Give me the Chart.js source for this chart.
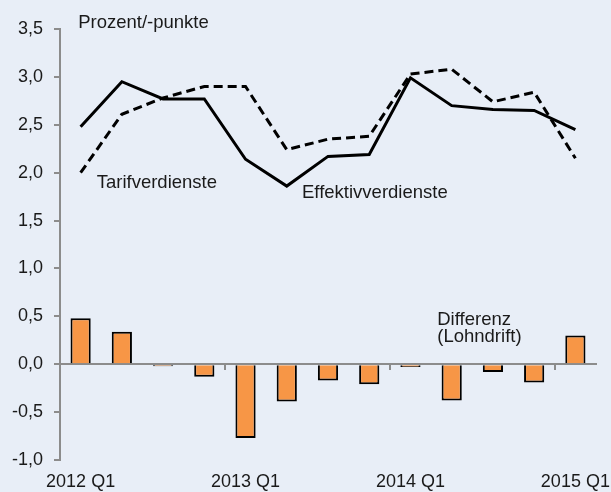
<!DOCTYPE html>
<html>
<head>
<meta charset="utf-8">
<script src="https://cdn.jsdelivr.net/npm/chart.js@4"></script>
<style>
  body { margin:0; background:#e8eef7; }
  #wrap { width:611px; height:492px; position:relative; }
</style>
</head>
<body>
<div id="wrap"><canvas id="myChart"></canvas></div>
<script>
var quarters = ['2012 Q1','2012 Q2','2012 Q3','2012 Q4','2013 Q1','2013 Q2','2013 Q3','2013 Q4',
                '2014 Q1','2014 Q2','2014 Q3','2014 Q4','2015 Q1'];
var effektiv  = [2.48, 2.95, 2.77, 2.77, 2.14, 1.86, 2.17, 2.19, 2.99, 2.70, 2.66, 2.65, 2.45];
var tarif     = [2.00, 2.61, 2.78, 2.90, 2.90, 2.24, 2.35, 2.38, 3.03, 3.08, 2.74, 2.84, 2.15];
var differenz = [0.48, 0.34, -0.02, -0.13, -0.77, -0.39, -0.17, -0.21, -0.03, -0.38, -0.08, -0.19, 0.30];

// text labels placed in data space: x = category index, y = value
var notes = [
  {text:'Prozent/-punkte',    x:-0.06, y:3.51},
  {text:'Tarifverdienste',    x:0.39,  y:1.84},
  {text:'Effektivverdienste', x:5.37,  y:1.74},
  {text:'Differenz',          x:8.65,  y:0.41},
  {text:'(Lohndrift)',        x:8.65,  y:0.235}
];

var axisGrey = '#8c8c8c';
var fontFam = '"Liberation Sans", Arial, sans-serif';

var notesPlugin = {
  id: 'notes',
  afterDatasetsDraw: function(chart) {
    var ctx = chart.ctx, xs = chart.scales.x, ys = chart.scales.y;
    var step = xs.getPixelForValue(1) - xs.getPixelForValue(0);
    ctx.save();
    ctx.font = '18.5px ' + fontFam;
    ctx.fillStyle = '#1a1a1a';
    ctx.textAlign = 'left';
    ctx.textBaseline = 'alphabetic';
    notes.forEach(function(n){
      ctx.fillText(n.text, xs.getPixelForValue(0) + n.x * step, ys.getPixelForValue(n.y));
    });
    ctx.restore();
  }
};

var ctx = document.getElementById('myChart');
var myChart = new Chart(ctx, {
  type: 'bar',
  data: {
    labels: quarters,
    datasets: [
      {
        type: 'line', label: 'Effektivverdienste', data: effektiv,
        borderColor: '#000', borderWidth: 3, pointRadius: 0, tension: 0, fill: false, order: 1
      },
      {
        type: 'line', label: 'Tarifverdienste', data: tarif,
        borderColor: '#000', borderWidth: 3, borderDash: [9, 5], pointRadius: 0, tension: 0, fill: false, order: 1
      },
      {
        type: 'bar', label: 'Differenz (Lohndrift)', data: differenz,
        backgroundColor: '#f79646', borderColor: '#000', borderWidth: 2,
        barPercentage: 0.49, categoryPercentage: 1, order: 2
      }
    ]
  },
  options: {
    responsive: true,
    maintainAspectRatio: false,
    animation: false,
    layout: { padding: { left: 0, right: 15, top: 29, bottom: 0 } },
    plugins: { legend: { display: false }, tooltip: { enabled: false } },
    scales: {
      x: {
        type: 'category', offset: true,
        grid: { display: false, drawTicks: false, offset: true },
        border: { display: false },
        ticks: {
          autoSkip: false, maxRotation: 0, padding: 11, color: '#1a1a1a',
          font: { family: fontFam, size: 18 },
          callback: function(v, i) { return i % 4 === 0 ? quarters[i] : ''; }
        },
        afterFit: function(s) { s.height = 32; s.paddingLeft = 0; s.paddingRight = 0; }
      },
      x2: {
        type: 'category', axis: 'x', offset: true, position: { y: 0 }, z: 1,
        grid: {
          offset: true, drawOnChartArea: false, drawTicks: true, tickLength: 5, lineWidth: 2,
          color: function(c) { return (c.index > 0 && c.index % 4 === 0) ? axisGrey : 'rgba(0,0,0,0)'; }
        },
        border: { display: true, color: axisGrey, width: 2 },
        ticks: { display: false }
      },
      y: {
        min: -1, max: 3.5,
        grid: { drawOnChartArea: false, drawTicks: true, tickLength: 6, color: axisGrey, lineWidth: 2 },
        border: { display: true, color: axisGrey, width: 2 },
        ticks: {
          stepSize: 0.5, padding: 11, color: '#1a1a1a',
          font: { family: fontFam, size: 18 },
          callback: function(v) { return v.toFixed(1).replace('.', ','); }
        },
        afterFit: function(s) { s.width = 60; }
      }
    }
  },
  plugins: [notesPlugin]
});
</script>
</body>
</html>
